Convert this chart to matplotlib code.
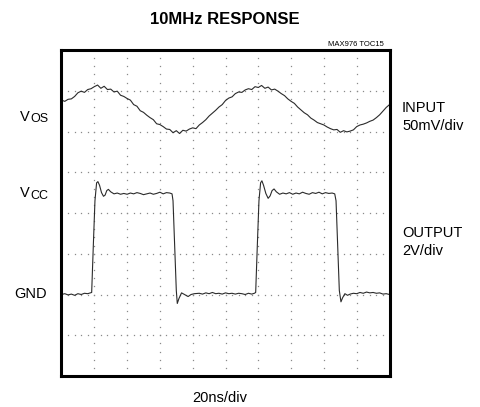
import numpy as np
import matplotlib
matplotlib.use("Agg")
import matplotlib.pyplot as plt

# scope traces, in divisions (x: 0..10, y: 0..8)
input_t = np.linspace(0, 10, 101)
input_v = [6.77, 6.74, 6.79, 6.80, 6.86, 6.95, 6.99, 6.96, 7.03, 7.05,
           7.10, 7.14, 7.06, 7.11, 7.03, 7.04, 6.97, 6.99, 6.89, 6.86,
           6.81, 6.77, 6.66, 6.62, 6.51, 6.47, 6.40, 6.34, 6.29, 6.19,
           6.17, 6.12, 6.06, 6.05, 5.97, 6.02, 5.95, 6.03, 6.01, 6.06,
           6.09, 6.07, 6.16, 6.22, 6.29, 6.38, 6.45, 6.52, 6.60, 6.66,
           6.76, 6.82, 6.85, 6.93, 6.97, 6.96, 7.02, 7.05, 7.03, 7.10,
           7.08, 7.13, 7.06, 7.09, 7.02, 7.04, 6.99, 6.93, 6.88, 6.80,
           6.74, 6.69, 6.60, 6.53, 6.46, 6.41, 6.33, 6.28, 6.22, 6.19,
           6.16, 6.11, 6.07, 6.04, 6.05, 5.98, 6.02, 5.99, 6.01, 6.04,
           6.12, 6.16, 6.18, 6.21, 6.25, 6.28, 6.34, 6.41, 6.50, 6.59,
           6.66]

output_t = [0.0, 0.1, 0.2, 0.3, 0.4, 0.5, 0.6, 0.7, 0.8, 0.88,
            0.92, 0.97, 1.02, 1.07, 1.11, 1.16, 1.22, 1.28, 1.33, 1.38,
            1.43, 1.50, 1.6, 1.7, 1.8, 1.9, 2.0, 2.1, 2.2, 2.3,
            2.4, 2.5, 2.6, 2.7, 2.8, 2.9, 3.0, 3.1, 3.2, 3.3,
            3.37, 3.40, 3.45, 3.50, 3.53, 3.58, 3.66, 3.75, 3.86, 3.95,
            4.05, 4.2, 4.3, 4.4, 4.5, 4.6, 4.7, 4.8, 4.9, 5.0,
            5.1, 5.2, 5.3, 5.4, 5.5, 5.6, 5.7, 5.8, 5.88, 5.92,
            5.97, 6.02, 6.07, 6.11, 6.16, 6.23, 6.30, 6.36, 6.42, 6.48,
            6.55, 6.65, 6.75, 6.85, 6.95, 7.05, 7.15, 7.25, 7.35, 7.45,
            7.55, 7.65, 7.75, 7.85, 7.95, 8.05, 8.15, 8.25, 8.33, 8.37,
            8.42, 8.47, 8.52, 8.57, 8.64, 8.72, 8.8, 8.9, 9.0, 9.1,
            9.2, 9.3, 9.4, 9.5, 9.6, 9.7, 9.8, 9.9, 10.0]
output_v = [2.00, 2.02, 1.99, 2.01, 1.98, 2.02, 2.00, 2.03, 2.02, 2.04,
            2.05, 3.20, 4.30, 4.74, 4.77, 4.68, 4.50, 4.41, 4.44, 4.55,
            4.58, 4.52, 4.47, 4.49, 4.46, 4.48, 4.46, 4.49, 4.47, 4.50,
            4.48, 4.45, 4.47, 4.49, 4.46, 4.48, 4.51, 4.47, 4.50, 4.49,
            4.47, 4.30, 3.20, 2.10, 1.78, 1.90, 2.04, 2.00, 1.95, 2.00,
            2.02, 2.03, 2.01, 2.04, 2.02, 2.05, 2.02, 2.03, 2.01, 2.04,
            2.02, 2.03, 2.01, 2.03, 2.02, 2.00, 2.03, 2.01, 2.03, 2.05,
            3.20, 4.30, 4.74, 4.79, 4.68, 4.48, 4.36, 4.42, 4.55, 4.59,
            4.52, 4.46, 4.49, 4.47, 4.50, 4.46, 4.49, 4.47, 4.51, 4.48,
            4.46, 4.50, 4.48, 4.51, 4.47, 4.50, 4.48, 4.49, 4.47, 4.30,
            3.20, 2.10, 1.82, 1.92, 2.02, 1.98, 2.01, 2.03, 2.02, 2.05,
            2.03, 2.06, 2.04, 2.05, 2.03, 2.04, 2.01, 2.02, 2.00]

W, H = 480, 407
plt.rcParams['font.family'] = ['Liberation Sans', 'DejaVu Sans']
LBL = 10.5


def px(x, y):
    return x / W, 1 - y / H


fig = plt.figure(figsize=(W / 100, H / 100), dpi=100)
ax = fig.add_axes([61.5 / W, 1 - 376 / H, 328 / W, 326 / H])
ax.set_xlim(0, 10)
ax.set_ylim(0, 8)

# dotted graticule
for i in range(1, 10):
    ys = np.arange(0, 8.01, 0.2)
    ax.plot(np.full_like(ys, i), ys, ls='none', marker='s', ms=0.9, color='#8a8a8a', mew=0)
for j in range(1, 8):
    xs = np.arange(0, 10.01, 0.2)
    ax.plot(xs, np.full_like(xs, j), ls='none', marker='s', ms=0.9, color='#8a8a8a', mew=0)

ax.plot(input_t, input_v, color='#2b2b2b', lw=0.8)
ax.plot(output_t, output_v, color='#2b2b2b', lw=0.8)

ax.set_xticks([])
ax.set_yticks([])
for s in ax.spines.values():
    s.set_linewidth(2.2)
    s.set_color('black')

fig.text(*px(225, 20), "10MHz RESPONSE", ha='center', va='center', fontsize=12, fontweight='bold')
fig.text(*px(384, 45), "MAX976 TOC15", ha='right', va='center', fontsize=5.5)

fig.text(*px(20, 121), "V", ha='left', va='baseline', fontsize=LBL)
fig.text(*px(30.5, 122), "OS", ha='left', va='baseline', fontsize=9)
fig.text(*px(20, 197), "V", ha='left', va='baseline', fontsize=LBL)
fig.text(*px(30.5, 198.5), "CC", ha='left', va='baseline', fontsize=9)
fig.text(*px(14, 294), "GND", ha='left', va='center', fontsize=LBL)

fig.text(*px(402, 108.5), "INPUT", ha='left', va='center', fontsize=LBL)
fig.text(*px(402, 126), "50mV/div", ha='left', va='center', fontsize=LBL)
fig.text(*px(402, 233), "OUTPUT", ha='left', va='center', fontsize=LBL)
fig.text(*px(402, 251), "2V/div", ha='left', va='center', fontsize=LBL)
fig.text(*px(220, 398), "20ns/div", ha='center', va='center', fontsize=LBL)

fig.savefig("out.png", dpi=100)
